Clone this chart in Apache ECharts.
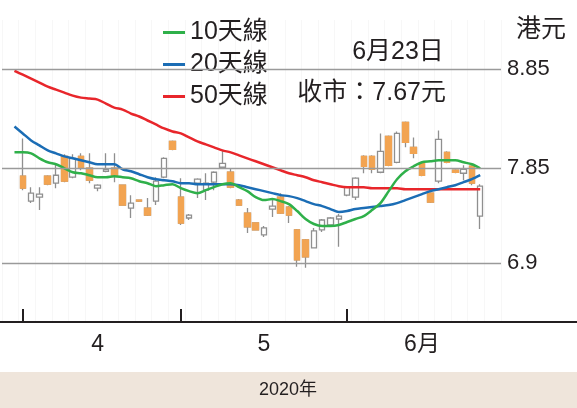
<!DOCTYPE html>
<html lang="zh-Hant">
<head>
<meta charset="UTF-8" />
<title>港股走勢</title>
<script src="https://cdn.jsdelivr.net/npm/echarts@6/dist/echarts.min.js"></script>
<style>html,body{margin:0;background:#fff}</style>
</head>
<body>
<div id="chart" style="width:577px;height:408px"></div>
<script>
// trading days, 31 Mar to 23 Jun 2020
const dates = ['3/31',
  '4/1','4/2','4/3','4/6','4/7','4/8','4/9','4/14','4/15','4/16','4/17','4/20','4/21','4/22','4/23','4/24','4/27','4/28','4/29',
  '5/4','5/5','5/6','5/7','5/8','5/11','5/12','5/13','5/14','5/15','5/18','5/19','5/20','5/21','5/22','5/25','5/26','5/27','5/28','5/29',
  '6/1','6/2','6/3','6/4','6/5','6/8','6/9','6/10','6/11','6/12','6/15','6/16','6/17','6/18','6/19','6/22','6/23'];

// [open, close, low, high]
const candles = ['-',
  [7.77,7.65,7.63,8.15],[7.52,7.60,7.50,7.66],[7.56,7.59,7.43,7.66],[7.77,7.69,7.68,7.78],[7.70,7.78,7.65,7.90],
  [7.97,7.72,7.71,7.99],[7.76,7.95,7.75,7.99],[7.97,7.86,7.83,8.00],[7.85,7.73,7.70,8.00],[7.65,7.68,7.62,7.69],
  [7.82,7.84,7.81,8.00],[7.85,7.78,7.71,8.00],[7.68,7.48,7.48,7.68],[7.45,7.50,7.35,7.58],[7.53,7.52,7.51,7.53],
  [7.45,7.38,7.37,7.55],[7.52,7.72,7.48,7.76],[7.76,7.95,7.75,7.96],[8.12,8.04,8.03,8.13],
  [7.56,7.30,7.28,7.75],[7.35,7.38,7.33,7.39],[7.70,7.74,7.55,7.75],[7.63,7.70,7.53,7.80],[7.71,7.81,7.63,7.82],
  [7.86,7.90,7.85,8.03],[7.81,7.66,7.65,7.85],[7.53,7.48,7.48,7.54],[7.40,7.26,7.20,7.45],[7.30,7.23,7.23,7.30],
  [7.18,7.25,7.16,7.27],[7.44,7.47,7.36,7.55],[7.56,7.40,7.39,7.60],[7.46,7.38,7.30,7.47],[7.23,6.93,6.86,7.24],
  [7.13,6.96,6.85,7.14],[7.05,7.22,7.05,7.25],[7.23,7.33,7.21,7.34],[7.28,7.35,7.26,7.36],[7.34,7.37,7.06,7.39],
  [7.58,7.66,7.57,7.67],[7.56,7.75,7.53,7.76],[7.97,7.87,7.80,7.98],[7.97,7.84,7.80,7.98],[7.81,8.02,7.80,8.20],
  [8.17,7.88,7.87,8.18],[7.91,8.20,7.90,8.22],[8.31,8.11,8.06,8.32],[8.06,8.00,7.95,8.16],[7.90,7.78,7.77,7.91],
  [7.60,7.51,7.50,7.61],[7.72,8.14,7.70,8.23],[8.01,7.91,7.90,8.02],[7.83,7.81,7.80,7.84],[7.80,7.84,7.73,7.88],
  [7.87,7.70,7.68,7.88],[7.37,7.67,7.24,7.69]];

const ma10 = [8.01,8.01,8.00,7.95,7.91,7.89,7.85,7.81,7.80,7.78,7.76,7.76,7.77,7.76,7.75,7.72,7.70,7.67,7.68,7.69,
  7.65,7.62,7.60,7.63,7.66,7.69,7.70,7.66,7.62,7.56,7.53,7.54,7.52,7.49,7.42,7.34,7.29,7.27,7.27,7.28,
  7.31,7.34,7.37,7.43,7.50,7.62,7.74,7.82,7.87,7.91,7.92,7.93,7.93,7.93,7.91,7.89,7.85];
const ma20 = [8.27,8.20,8.13,8.08,8.03,8.00,7.97,7.95,7.93,7.91,7.89,7.89,7.89,7.84,7.82,7.79,7.76,7.74,7.73,7.72,
  7.70,7.70,7.69,7.69,7.69,7.69,7.69,7.68,7.66,7.64,7.62,7.60,7.58,7.57,7.55,7.52,7.49,7.47,7.44,7.41,
  7.42,7.44,7.45,7.46,7.47,7.48,7.50,7.53,7.56,7.59,7.62,7.64,7.66,7.68,7.71,7.74,7.78];
const ma50 = [8.83,8.79,8.75,8.71,8.67,8.64,8.61,8.58,8.56,8.55,8.54,8.50,8.46,8.44,8.40,8.37,8.33,8.29,8.25,8.22,
  8.20,8.16,8.12,8.09,8.06,8.03,8.01,7.98,7.95,7.92,7.89,7.86,7.83,7.80,7.78,7.76,7.73,7.71,7.69,7.67,
  7.66,7.66,7.66,7.65,7.65,7.65,7.65,7.64,7.64,7.64,7.64,7.64,7.64,7.64,7.64,7.64,7.64];

const yTicks = [8.85, 7.85, 6.9];
const yTickLabels = ['8.85', '7.85', '6.9'];
const monthStarts = ['4/1', '5/4', '6/1'];
const monthLabels = { '4/16': '4', '5/18': '5', '6/12': '6月' };

const narrow = "'Liberation Sans Narrow', 'Liberation Sans', 'Noto Sans CJK TC', sans-serif";
const ink = '#231f20';
const orange = '#f2a452';
const grey = '#8f8f8f';

// one empty slot before and two after, so the grid runs a little wider than the candles
const pad = (arr, v) => [v].concat(arr, [v, v]);
const axisDates = pad(dates, '');

// falling days get an orange body drawn over the grey wick
const downBodies = candles.map(d =>
  d === '-' || d[1] >= d[0] ? '-' : [d[0], d[1], d[1], d[0]]);

const chart = echarts.init(document.getElementById('chart'));

chart.setOption({
  animation: false,
  backgroundColor: '#fff',
  grid: { left: 2, right: 76, top: 20, bottom: 86 },
  legend: {
    orient: 'vertical',
    left: 158,
    top: 15,
    itemWidth: 22,
    itemHeight: 3,
    itemGap: 7,
    icon: 'rect',
    data: ['10天線', '20天線', '50天線'],
    textStyle: { fontFamily: narrow, fontSize: 25, color: ink }
  },
  xAxis: {
    type: 'category',
    data: axisDates,
    boundaryGap: true,
    axisLine: { show: false },
    axisTick: {
      show: true,
      inside: true,
      length: 13,
      alignWithLabel: true,
      interval: (i, v) => monthStarts.includes(v),
      lineStyle: { color: ink, width: 2 }
    },
    axisLabel: {
      interval: (i, v) => v in monthLabels,
      formatter: v => monthLabels[v] || '',
      fontFamily: narrow,
      fontSize: 23,
      color: ink,
      margin: 11
    },
    splitLine: { show: true, interval: 1, lineStyle: { color: '#f7f7f7', width: 1 } }
  },
  yAxis: {
    type: 'value',
    min: 6.305,
    max: 9.34,
    show: false,
    splitLine: { show: false }
  },
  series: [
    {
      type: 'candlestick',
      data: pad(candles, '-'),
      barWidth: '72%',
      itemStyle: {
        color: '#ffffff',
        borderColor: grey,
        color0: orange,
        borderColor0: grey,
        borderWidth: 1.3
      },
      markLine: {
        silent: true,
        symbol: 'none',
        lineStyle: { color: '#9a9a9a', width: 1.3, type: 'solid' },
        label: { position: 'end', distance: 6, fontFamily: narrow, fontSize: 22, color: ink },
        data: yTicks.map((v, i) => ({ yAxis: v, label: { formatter: yTickLabels[i] } }))
      }
    },
    {
      type: 'candlestick',
      data: pad(downBodies, '-'),
      barWidth: '72%',
      z: 3,
      itemStyle: {
        color: orange, borderColor: orange,
        color0: orange, borderColor0: orange,
        borderWidth: 1.3
      }
    },
    {
      name: '50天線', type: 'line', data: pad(ma50, null), symbol: 'none', smooth: 0.3, z: 4,
      itemStyle: { color: '#e8262b' }, lineStyle: { color: '#e8262b', width: 2.5 }
    },
    {
      name: '20天線', type: 'line', data: pad(ma20, null), symbol: 'none', smooth: 0.3, z: 4,
      itemStyle: { color: '#1b6db5' }, lineStyle: { color: '#1b6db5', width: 2.5 }
    },
    {
      name: '10天線', type: 'line', data: pad(ma10, null), symbol: 'none', smooth: 0.3, z: 4,
      itemStyle: { color: '#2fb04a' }, lineStyle: { color: '#2fb04a', width: 2.5 }
    }
  ],
  graphic: [
    { type: 'line', z: 10, shape: { x1: 0, y1: 322, x2: 577, y2: 322 }, style: { stroke: ink, lineWidth: 2 } },
    { type: 'rect', z: 10, shape: { x: 0, y: 372, width: 577, height: 36 }, style: { fill: '#efe5db' } },
    { type: 'text', z: 10, x: 288, y: 390, style: { text: '2020年', font: "18px " + narrow, fill: ink, align: 'center', verticalAlign: 'middle' } },
    { type: 'text', z: 10, x: 541, y: 30, style: { text: '港元', font: "25px " + narrow, fill: ink, align: 'center', verticalAlign: 'middle' } },
    { type: 'text', z: 10, x: 398, y: 52, style: { text: '6月23日', font: "25px " + narrow, fill: ink, align: 'center', verticalAlign: 'middle' } },
    { type: 'text', z: 10, x: 446, y: 93, style: { text: '收市：7.67元', font: "25px " + narrow, fill: ink, align: 'right', verticalAlign: 'middle' } }
  ]
});
</script>
</body>
</html>
